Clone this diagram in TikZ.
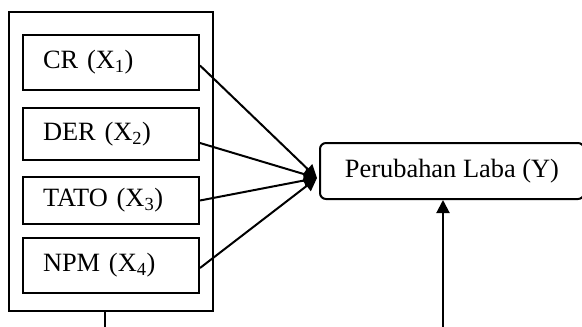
\documentclass[tikz,border=0pt]{standalone}
\usepackage{fontspec}
\setmainfont{Liberation Serif}
\usetikzlibrary{arrows.meta,calc}

\tikzset{
  every picture/.style={x=1pt,y=-1pt},
  line/.style={line width=2pt},
  varbox/.style={draw,line width=2pt,rectangle,minimum width=176pt,
    text width=136pt,inner xsep=20pt,align=left,
    font=\fontsize{26.4}{30}\selectfont},
  groupbox/.style={draw,line width=2pt,rectangle,minimum width=204pt,minimum height=299pt},
  resultbox/.style={draw,line width=2pt,rectangle,rounded corners=6pt,
    minimum width=264pt,minimum height=56pt,
    font=\fontsize{26.4}{30}\selectfont},
  link/.style={line width=2pt,-{Triangle[length=13pt,width=13pt]}}
}

\begin{document}
\begin{tikzpicture}
\useasboundingbox (0,0) rectangle (582,327);

% group of independent variables
\node[groupbox] (grp) at (111,161.5) {};
\node[varbox,minimum height=55pt] (x1) at (111,62.5)  {CR (X\textsubscript{1})};
\node[varbox,minimum height=52pt] (x2) at (111,134)   {DER (X\textsubscript{2})};
\node[varbox,minimum height=47pt] (x3) at (111,200.5) {TATO (X\textsubscript{3})};
\node[varbox,minimum height=55pt] (x4) at (111,265.5) {NPM (X\textsubscript{4})};

% dependent variable
\node[resultbox] (y) at (452,171) {Perubahan Laba (Y)};

% meeting point of the four links
\coordinate (hub) at (317,178);
\draw[link] ([yshift=-3pt]x1.east) -- (hub);
\draw[link] ([yshift=-9pt]x2.east) -- (hub);
\draw[link] (x3.east) -- (hub);
\draw[link] ([yshift=-2.5pt]x4.east) -- (hub);

% lines leaving the lower edge
\coordinate (b1) at (105,327);
\coordinate (b2) at (443,327);
\draw[line] (grp.south -| b1) -- (b1);
\draw[link] (b2) -- (b2 |- y.south);
\end{tikzpicture}
\end{document}
